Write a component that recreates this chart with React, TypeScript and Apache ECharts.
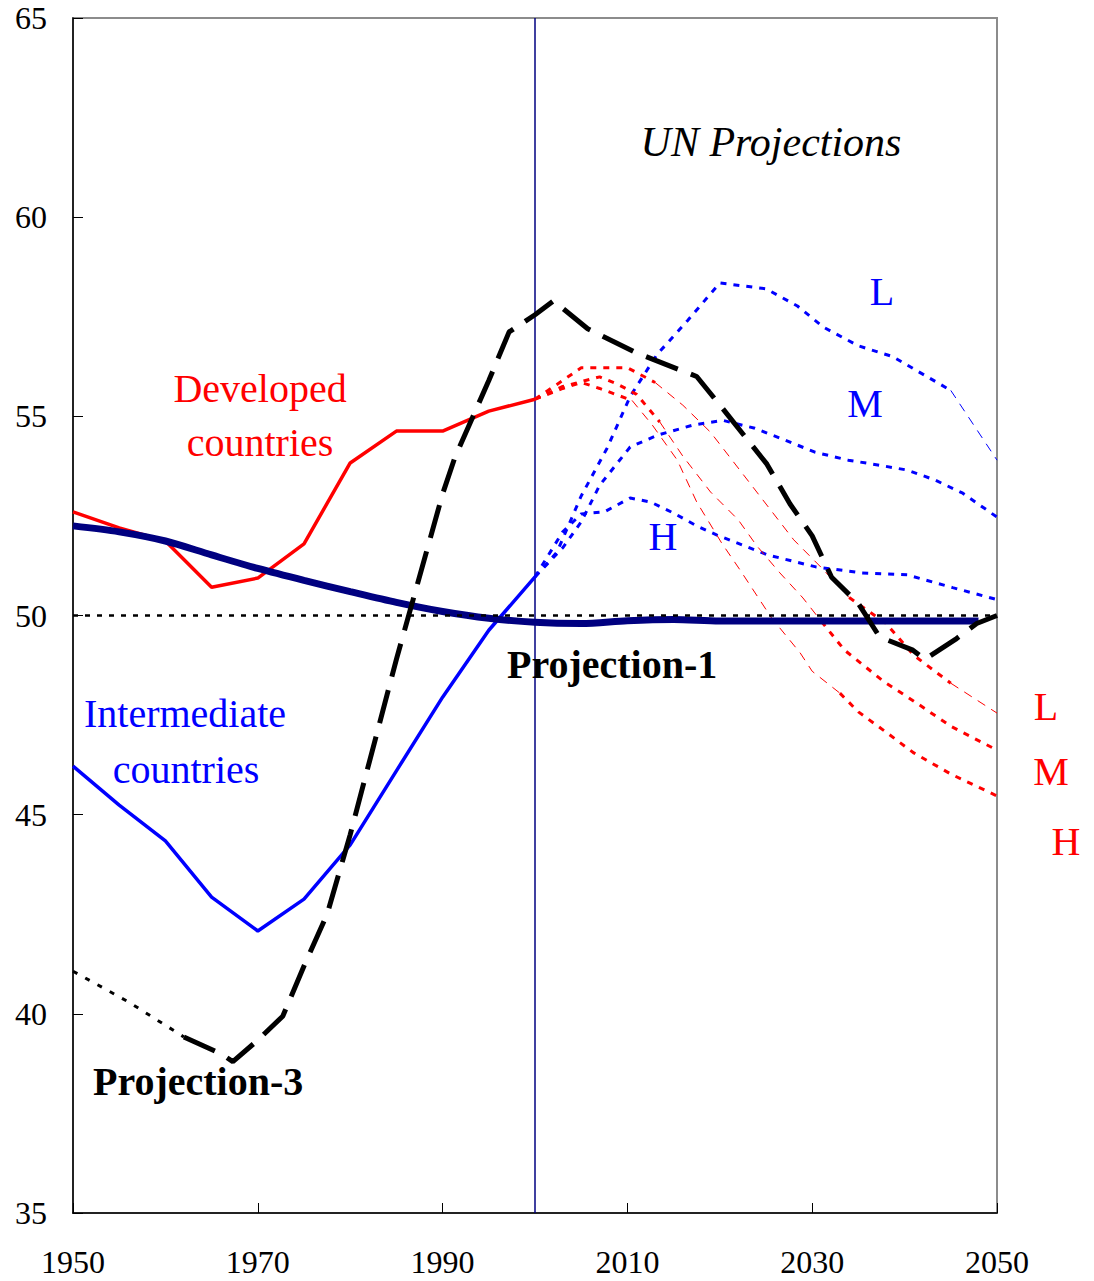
import React, { useEffect, useRef } from "react";
import * as echarts from "echarts";

const xTicks = [1950, 1970, 1990, 2010, 2030, 2050];
const yTicks = [35, 40, 45, 50, 55, 60, 65];

const developed = [
  [1950, 52.6], [1955, 52.2], [1960, 51.87], [1965, 50.71], [1970, 50.94], [1975, 51.8],
  [1980, 53.83], [1985, 54.63], [1990, 54.63], [1995, 55.13], [2000, 55.43],
];
const intermediate = [
  [1950, 46.22], [1955, 45.24], [1960, 44.34], [1965, 42.93], [1970, 42.08], [1975, 42.88],
  [1980, 44.24], [1985, 46.1], [1990, 47.95], [1995, 49.63], [2000, 50.97],
];
const projection1 = [
  [1950, 52.25], [1955, 52.1], [1960, 51.87], [1965, 51.52], [1970, 51.18], [1975, 50.88],
  [1980, 50.6], [1985, 50.33], [1990, 50.1], [1995, 49.93], [2000, 49.83], [2005, 49.8],
  [2010, 49.87], [2015, 49.9], [2020, 49.86], [2025, 49.86], [2030, 49.86], [2035, 49.86],
  [2040, 49.86], [2048, 49.86],
];
const reference50 = [[1950, 50], [2050, 50]];
const projection3Early = [[1950, 41.07], [1956, 40.3], [1962, 39.42]];
const projection3 = [
  [1962, 39.42], [1966, 39.0], [1967.3, 38.8], [1970, 39.34], [1972.7, 39.94], [1975, 41.2],
  [1977.5, 42.5], [1980, 44.5], [1985, 48.9], [1990, 53.05], [1991.3, 53.95], [1995, 55.9],
  [1997.2, 57.12], [2000, 57.55], [2002, 57.9], [2005.7, 57.2], [2010.9, 56.6], [2017.5, 56.0],
  [2020.3, 55.2], [2025.1, 53.8], [2027.6, 52.8], [2030, 52.0], [2032.1, 50.96], [2035, 50.3],
  [2037.3, 49.46], [2040.9, 49.13], [2042.2, 48.9], [2045.5, 49.4], [2047.8, 49.8], [2050, 50.0],
];
const unBlueL = [
  [2000, 50.97], [2002.4, 51.6], [2005, 53.0], [2007.8, 54.2], [2010.3, 55.5], [2013.2, 56.55],
  [2016.5, 57.4], [2020, 58.35], [2025, 58.2], [2028.4, 57.77], [2031.2, 57.24], [2035, 56.77],
  [2038.7, 56.5], [2042.7, 55.96], [2045, 55.65], [2050, 53.9],
];
const unBlueM = [
  [2000, 50.97], [2003, 51.7], [2005, 52.35], [2007, 53.27], [2010.3, 54.23], [2013.3, 54.53],
  [2017.1, 54.78], [2020.3, 54.9], [2023.8, 54.7], [2027.1, 54.4], [2030.3, 54.1], [2033.9, 53.9],
  [2037.1, 53.78], [2040.3, 53.65], [2043.3, 53.4], [2046.3, 53.07], [2050, 52.47],
];
const unBlueH = [
  [2000, 50.97], [2003, 52.1], [2005, 52.55], [2007.5, 52.6], [2010.3, 52.95], [2012.5, 52.85],
  [2015, 52.57], [2017.5, 52.25], [2019.7, 52.02], [2025.2, 51.52], [2030.4, 51.22], [2035.4, 51.07],
  [2040.3, 51.02], [2045.2, 50.7], [2050, 50.4],
];
const unRedL = [
  [2000, 55.43], [2003, 55.9], [2005, 56.22], [2010, 56.22], [2013, 55.85], [2016, 55.28],
  [2019, 54.6], [2021, 54.0], [2024, 53.1], [2028, 51.9], [2031, 51.2], [2034, 50.45],
  [2038, 49.8], [2041, 49.0], [2045, 48.3], [2050, 47.55],
];
const unRedM = [
  [2000, 55.43], [2003, 55.75], [2007, 55.99], [2009, 55.8], [2011, 55.55], [2013.5, 54.86],
  [2016, 54.0], [2019, 53.1], [2022, 52.4], [2024, 51.75], [2026.5, 51.07], [2029, 50.44],
  [2031, 49.85], [2033.5, 49.13], [2037.7, 48.35], [2041, 47.85], [2045, 47.22], [2050, 46.62],
];
const unRedH = [
  [2000, 55.43], [2003, 55.7], [2005, 55.85], [2007, 55.7], [2010.5, 55.4], [2012.7, 54.78],
  [2015.4, 53.9], [2017.5, 52.85], [2020.2, 51.82], [2022.2, 51.14], [2025.6, 49.94], [2028.7, 49.06],
  [2030, 48.6], [2033, 48.05], [2035, 47.58], [2038, 47.07], [2041, 46.55], [2045, 46.02], [2050, 45.47],
];
const divider = [[2000, 35], [2000, 65]];

const seg = (d: number[][], a: number, b: number) => d.filter(([x]) => x >= a && x <= b);

const SERIF = '"Liberation Serif", "Times New Roman", serif';
const BLUE = "#0000FF";
const RED = "#FF0000";
const NAVY = "#000080";
const DOT = [6, 7];
const THIN = [9, 7];

function line(name: string, data: number[][], color: string, width: number, type: any, extra: any = {}) {
  return {
    name,
    type: "line",
    data,
    showSymbol: false,
    symbol: "none",
    lineStyle: { color, width, type },
    silent: true,
    ...extra,
  };
}

function label(text: string, x: number, y: number, color: string, opts: any = {}) {
  return {
    type: "text",
    x,
    y,
    silent: true,
    style: {
      text,
      fill: color,
      fontSize: opts.size || 40,
      fontFamily: SERIF,
      fontStyle: opts.italic ? "italic" : "normal",
      fontWeight: opts.bold ? "bold" : "normal",
      align: opts.align || "center",
      verticalAlign: "middle",
    },
    z: 100,
  };
}

export default function App() {
  const ref = useRef<HTMLDivElement>(null);
  useEffect(() => {
    if (!ref.current) return;
    const chart = echarts.init(ref.current, null, { renderer: "svg" });
    chart.setOption({
      animation: false,
      backgroundColor: "#ffffff",
      grid: {
        left: 73, right: 97, top: 18, bottom: 68,
        show: true, borderColor: "#8c8c8c", borderWidth: 2, backgroundColor: "transparent",
      },
      xAxis: {
        type: "value", min: 1950, max: 2050, interval: 20,
        axisLine: { show: true, onZero: false, lineStyle: { color: "#000", width: 1.5 } },
        axisTick: { show: true, inside: true, length: 10, lineStyle: { color: "#000", width: 1 } },
        axisLabel: {
          show: true, margin: 33, fontSize: 32, lineHeight: 32, fontFamily: SERIF, color: "#000",
          showMinLabel: true, showMaxLabel: true,
          formatter: (v: number) => (xTicks.includes(v) ? String(v) : ""),
        },
        splitLine: { show: false },
      },
      yAxis: {
        type: "value", min: 35, max: 65, interval: 5,
        axisLine: { show: true, onZero: false, lineStyle: { color: "#000", width: 1.5 } },
        axisTick: { show: true, inside: true, length: 10, lineStyle: { color: "#000", width: 1 } },
        axisLabel: {
          show: true, margin: 26, fontSize: 32, fontFamily: SERIF, color: "#000",
          formatter: (v: number) => (yTicks.includes(v) ? String(v) : ""),
        },
        splitLine: { show: false },
      },
      series: [
        line("Divider 2000", divider, NAVY, 1.5, "solid"),
        line("UN blue L", seg(unBlueL, 2000, 2045), BLUE, 3, DOT),
        line("UN blue L end", seg(unBlueL, 2045, 2050), BLUE, 1, THIN),
        line("UN blue M", unBlueM, BLUE, 3, DOT),
        line("UN blue H", unBlueH, BLUE, 3, DOT),
        line("UN red L a", seg(unRedL, 2000, 2013), RED, 3, DOT),
        line("UN red L b", seg(unRedL, 2013, 2034), RED, 1, THIN),
        line("UN red L c", seg(unRedL, 2034, 2045), RED, 3, DOT),
        line("UN red L d", seg(unRedL, 2045, 2050), RED, 1, THIN),
        line("UN red M a", seg(unRedM, 2000, 2013.5), RED, 3, DOT),
        line("UN red M b", seg(unRedM, 2013.5, 2031), RED, 1, THIN),
        line("UN red M c", seg(unRedM, 2031, 2050), RED, 3, DOT),
        line("UN red H a", seg(unRedH, 2000, 2010.5), RED, 3, DOT),
        line("UN red H b", seg(unRedH, 2010.5, 2033), RED, 1, THIN),
        line("UN red H c", seg(unRedH, 2033, 2050), RED, 3, DOT),
        line("Developed countries", developed, RED, 3.5, "solid"),
        line("Intermediate countries", intermediate, BLUE, 3.5, "solid"),
        line("Projection-1", projection1, NAVY, 7, "solid", { smooth: 0.3 }),
        line("Level 50", reference50, "#000", 2.5, [5, 7]),
        line("Projection-3 early", projection3Early, "#000", 3, [5, 9]),
        line("Projection-3", projection3, "#000", 5, [34, 14]),
      ],
      graphic: [
        label("UN Projections", 771, 142, "#000", { italic: true, size: 42 }),
        label("Developed", 260, 388, RED),
        label("countries", 260, 442, RED),
        label("Intermediate", 185, 713, BLUE),
        label("countries", 186, 769, BLUE),
        label("Projection-1", 507, 664, "#000", { bold: true, align: "left" }),
        label("Projection-3", 93, 1081, "#000", { bold: true, align: "left" }),
        label("L", 882, 291, BLUE),
        label("M", 865, 403, BLUE),
        label("H", 663, 536, BLUE),
        label("L", 1046, 706, RED),
        label("M", 1051, 771, RED),
        label("H", 1066, 841, RED),
      ],
    });
    return () => chart.dispose();
  }, []);
  return (
    <div
      ref={ref}
      style={{ position: "absolute", left: 0, top: 0, width: 1094, height: 1281, background: "#fff" }}
    />
  );
}
